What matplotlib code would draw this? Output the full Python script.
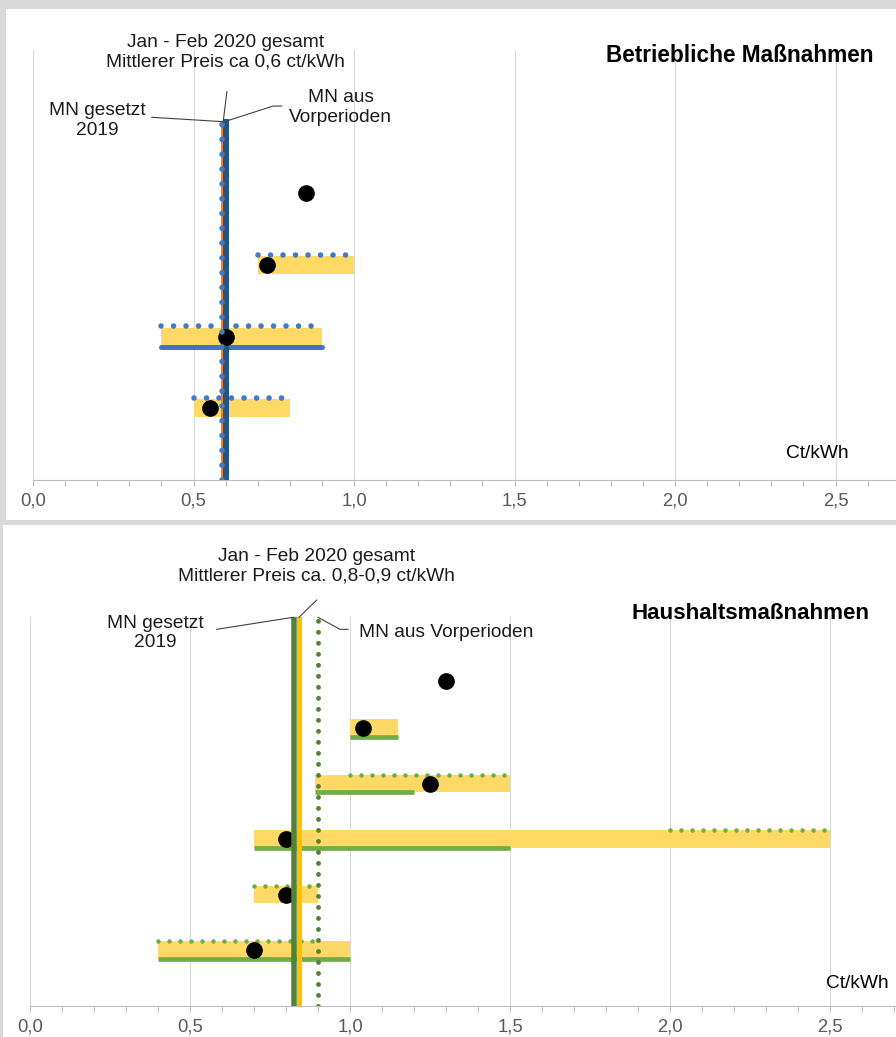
import numpy as np
import matplotlib.pyplot as plt
from matplotlib.patches import Rectangle
from matplotlib.ticker import MultipleLocator

plt.rcParams['font.family'] = ['Liberation Sans', 'DejaVu Sans']

# Betriebliche Maßnahmen (ct/kWh)
b_rows = [4, 3, 2, 1]
b_points = [0.85, 0.73, 0.60, 0.55]
b_bar_rows = [3, 2, 1]
b_bar_lo = [0.70, 0.40, 0.50]
b_bar_hi = [1.00, 0.90, 0.80]
b_vor_rows = [3, 2, 1]
b_vor_lo = [0.70, 0.40, 0.50]
b_vor_hi = [1.00, 0.90, 0.80]
b_ges_rows = [2]
b_ges_lo = [0.40]
b_ges_hi = [0.90]
b_preis = 0.59
b_gesetzt = 0.60
b_vorperioden = 0.59

# Haushaltsmaßnahmen (ct/kWh)
h_rows = [5.85, 5, 4, 3, 2, 1]
h_points = [1.30, 1.04, 1.25, 0.80, 0.80, 0.70]
h_bar_rows = [5, 4, 3, 2, 1]
h_bar_lo = [1.00, 0.89, 0.70, 0.70, 0.40]
h_bar_hi = [1.15, 1.50, 2.50, 0.90, 1.00]
h_vor_rows = [4, 3, 2, 1]
h_vor_lo = [1.00, 2.00, 0.70, 0.40]
h_vor_hi = [1.50, 2.50, 0.90, 0.90]
h_ges_rows = [5, 4, 3, 1]
h_ges_lo = [1.00, 0.89, 0.70, 0.40]
h_ges_hi = [1.15, 1.20, 1.50, 1.00]
h_preis = 0.84
h_gesetzt = 0.825
h_vorperioden = 0.90

tick_values = [0, 0.5, 1.0, 1.5, 2.0, 2.5]
tick_labels = ['0,0', '0,5', '1,0', '1,5', '2,0', '2,5']

YELLOW = '#ffd966'
W, H = 896, 1037


def box(x0, y0, x1, y1):
    # pixel box (top-left origin) -> figure fraction
    return [x0 / W, 1 - y1 / H, (x1 - x0) / W, (y1 - y0) / H]


def style(ax):
    ax.set_facecolor('none')
    for s in ['top', 'right']:
        ax.spines[s].set_visible(False)
    ax.spines['left'].set_color('#d9d9d9')
    ax.spines['bottom'].set_color('#bfbfbf')
    ax.set_xticks(tick_values)
    ax.set_xticklabels(tick_labels)
    ax.xaxis.set_minor_locator(MultipleLocator(0.1))
    ax.set_yticks([])
    ax.tick_params(axis='x', which='both', direction='out', length=4, width=0.8,
                   color='#bfbfbf', labelsize=13.3, labelcolor='#595959', pad=5)
    ax.grid(axis='x', which='major', color='#d9d9d9', lw=0.8)
    ax.set_axisbelow(True)


def dotted(ax, x, y, color, lw_px, period_px, z):
    ax.plot(x, y, color=color, lw=lw_px * 0.72, linestyle=(0, (0.001, period_px / lw_px)),
            dash_capstyle='round', zorder=z)


fig = plt.figure(figsize=(W / 100, H / 100), dpi=100, facecolor='#d9d9d9')
fig.patches.append(Rectangle((6 / W, 1 - 520 / H), 890 / W, 511 / H, transform=fig.transFigure,
                             facecolor='white', edgecolor='none', zorder=-1))
fig.patches.append(Rectangle((3 / W, 0), 893 / W, 512 / H, transform=fig.transFigure,
                             facecolor='white', edgecolor='none', zorder=-1))

# ---------------- panel 1 ----------------
ax1 = fig.add_axes(box(33, 50, 896, 480))
style(ax1)
ax1.set_xlim(0, 863 / 321)
ax1.set_ylim(0, 6)
ppu = 430 / 6  # pixels per y unit
half = 9 / ppu
off = 10.5 / ppu

ax1.barh(b_bar_rows, np.subtract(b_bar_hi, b_bar_lo), left=b_bar_lo, height=2 * half,
         color=YELLOW, zorder=2)
for r, lo, hi in zip(b_vor_rows, b_vor_lo, b_vor_hi):
    dotted(ax1, [lo, hi], [r + off, r + off], '#3f7cc4', 5.6, 12.5, 3)
for r, lo, hi in zip(b_ges_rows, b_ges_lo, b_ges_hi):
    ax1.plot([lo, hi], [r - off, r - off], color='#4472c4', lw=5 * 0.72,
             solid_capstyle='round', zorder=3)
ax1.plot([b_preis, b_preis], [0, 5], color='#ed7d31', lw=3 * 0.72, zorder=4)
ax1.plot([b_gesetzt, b_gesetzt], [0, 5], color='#28557f', lw=6 * 0.72, zorder=4)
ax1.plot(b_points, b_rows, 'o', color='black', ms=11, zorder=5)
dotted(ax1, [b_vorperioden, b_vorperioden], [0, 5], '#3f7cc4', 5.6, 14.8, 6)

tkw = dict(fontsize=13.8, color='#1a1a1a', ha='center', va='center', linespacing=1.2)
ax1.text(0.601, 5.965, 'Jan - Feb 2020 gesamt\nMittlerer Preis ca 0,6 ct/kWh', **tkw)
ax1.text(0.199, 5.02, 'MN gesetzt\n2019', **tkw)
ax1.text(0.958, 5.20, 'MN aus\nVorperioden', **tkw)
lkw = dict(color='#404040', lw=0.8, zorder=7, clip_on=False)
ax1.plot([0.604, 0.5925], [5.418, 5.0], **lkw)
ax1.plot([0.370, 0.592], [5.061, 5.0], **lkw)
ax1.plot([0.603, 0.748, 0.775], [5.009, 5.218, 5.218], **lkw)
ax1.text(2.617, 5.93, 'Betriebliche Maßnahmen', fontsize=16.3, fontweight='bold',
         ha='right', va='center', color='black')
ax1.text(2.541, 0.363, 'Ct/kWh', fontsize=13.8, ha='right', va='center', color='black')

# ---------------- panel 2 ----------------
ax2 = fig.add_axes(box(30, 617, 896, 1005.5))
style(ax2)
ax2.set_xlim(0, 866 / 320)
ax2.set_ylim(0, 7)
ppu = 388.5 / 7
half = 8.8 / ppu
off = 8.8 / ppu

ax2.barh(h_bar_rows, np.subtract(h_bar_hi, h_bar_lo), left=h_bar_lo, height=2 * half,
         color=YELLOW, zorder=2)
for r, lo, hi in zip(h_vor_rows, h_vor_lo, h_vor_hi):
    dotted(ax2, [lo, hi], [r + off, r + off], '#70ad47', 4.6, 11, 3)
for r, lo, hi in zip(h_ges_rows, h_ges_lo, h_ges_hi):
    ax2.plot([lo, hi], [r - off, r - off], color='#70ad47', lw=4.7 * 0.72,
             solid_capstyle='butt', zorder=3)
ax2.plot(h_points, h_rows, 'o', color='black', ms=11, zorder=4)
ax2.plot([h_gesetzt, h_gesetzt], [0, 7], color='#548235', lw=5.5 * 0.72, zorder=5)
ax2.plot([h_preis, h_preis], [0, 7], color='#ffc000', lw=5 * 0.72, zorder=5)
dotted(ax2, [h_vorperioden, h_vorperioden], [0, 7], '#548235', 4.9, 11, 6)

ax2.text(0.894, 7.92, 'Jan - Feb 2020 gesamt\nMittlerer Preis ca. 0,8-0,9 ct/kWh', **tkw)
ax2.text(0.392, 6.712, 'MN gesetzt\n2019', **tkw)
ax2.text(1.028, 6.724, 'MN aus Vorperioden', fontsize=13.8, color='#1a1a1a', ha='left', va='center')
ax2.plot([0.896, 0.8406], [7.306, 6.995], **lkw)
ax2.plot([0.5834, 0.8228], [6.778, 6.995], **lkw)
ax2.plot([0.900, 0.96875, 0.99375], [6.995, 6.778, 6.778], **lkw)
ax2.text(2.622, 7.072, 'Haushaltsmaßnahmen', fontsize=16.1, fontweight='bold',
         ha='right', va='center', color='black')
ax2.text(2.682, 0.393, 'Ct/kWh', fontsize=13.8, ha='right', va='center', color='black')

fig.savefig('out.png', dpi=100, facecolor=fig.get_facecolor())
